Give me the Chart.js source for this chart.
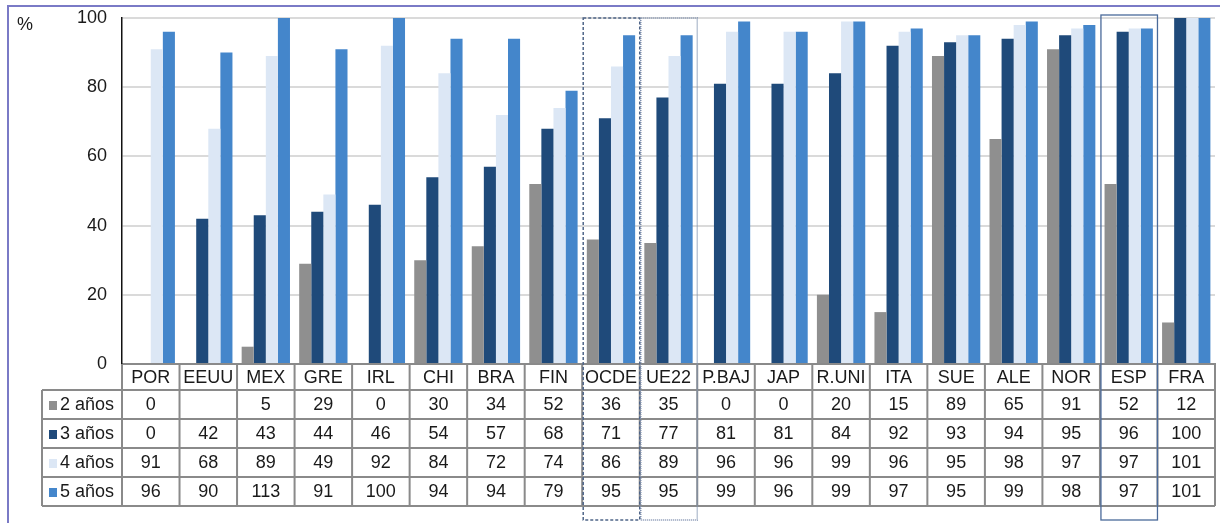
<!DOCTYPE html>
<html lang="es">
<head>
<meta charset="utf-8">
<title>Tasas de escolarización por edad</title>
<script src="https://cdn.jsdelivr.net/npm/chart.js@4/dist/chart.umd.min.js"></script>
<style>
  html, body { margin: 0; padding: 0; background: #ffffff; }
  #wrap { position: relative; width: 1220px; height: 523px; }
  canvas { display: block; }
</style>
</head>
<body>
<div id="wrap"><canvas id="chart" width="1220" height="523"></canvas></div>
<script>
// Countries / aggregates, in the order shown
const categories = ['POR','EEUU','MEX','GRE','IRL','CHI','BRA','FIN','OCDE','UE22','P.BAJ','JAP','R.UNI','ITA','SUE','ALE','NOR','ESP','FRA'];

// Enrolment rate (%) by age
const age2 = [0, null, 5, 29, 0, 30, 34, 52, 36, 35, 0, 0, 20, 15, 89, 65, 91, 52, 12];
const age3 = [0, 42, 43, 44, 46, 54, 57, 68, 71, 77, 81, 81, 84, 92, 93, 94, 95, 96, 100];
const age4 = [91, 68, 89, 49, 92, 84, 72, 74, 86, 89, 96, 96, 99, 96, 95, 98, 97, 97, 101];
const age5 = [96, 90, 113, 91, 100, 94, 94, 79, 95, 95, 99, 96, 99, 97, 95, 99, 98, 97, 101];

const seriesNames = ['2 años', '3 años', '4 años', '5 años'];
const seriesColors = ['#8f8f8f', '#1f4a7a', '#dce7f5', '#4486cb'];
const yTicks = [0, 20, 40, 60, 80, 100];

const FONT = '"Liberation Sans", Arial, sans-serif';
const TEXT = '#1a1a1a';
const TABLE_LINE = '#8a8a8a';

// Row bottoms of the data table below the plot (header row + 4 series rows)
const tableRowEdges = [390, 419, 448, 477, 506];
const tableLeft = 42;

const seriesData = [age2, age3, age4, age5];

// Frame around the whole figure
const framePlugin = {
  id: 'frame',
  beforeDraw(chart) {
    const ctx = chart.ctx;
    ctx.save();
    ctx.strokeStyle = '#7a7ac6';
    ctx.lineWidth = 2;
    ctx.beginPath();
    ctx.moveTo(8, 523);
    ctx.lineTo(8, 6);
    ctx.lineTo(1220, 6);
    ctx.stroke();
    ctx.fillStyle = TEXT;
    ctx.font = '18px ' + FONT;
    ctx.textAlign = 'left';
    ctx.textBaseline = 'middle';
    ctx.fillText('%', 17, 25);
    ctx.restore();
  }
};

// Data table under the plot, aligned with the category scale
const tablePlugin = {
  id: 'dataTable',
  afterDraw(chart) {
    const ctx = chart.ctx;
    const xs = chart.scales.x;
    const area = chart.chartArea;
    const n = categories.length;
    const colW = (area.right - area.left) / n;
    const top = area.bottom;
    const right = area.right;
    ctx.save();
    ctx.strokeStyle = TABLE_LINE;
    ctx.lineWidth = 2;

    // horizontal rules
    ctx.beginPath();
    tableRowEdges.forEach(y => {
      ctx.moveTo(tableLeft, y);
      ctx.lineTo(right, y);
    });
    ctx.stroke();

    // vertical rules
    ctx.beginPath();
    ctx.moveTo(tableLeft, tableRowEdges[0]);
    ctx.lineTo(tableLeft, tableRowEdges[tableRowEdges.length - 1]);
    for (let i = 0; i <= n; i++) {
      const x = xs.getPixelForValue(i) - colW / 2;
      ctx.moveTo(x, top);
      ctx.lineTo(x, tableRowEdges[tableRowEdges.length - 1]);
    }
    ctx.stroke();

    // row labels with colour keys, and the values
    ctx.font = '18px ' + FONT;
    ctx.textBaseline = 'middle';
    for (let r = 0; r < seriesData.length; r++) {
      const y0 = tableRowEdges[r];
      const y1 = tableRowEdges[r + 1];
      const cy = (y0 + y1) / 2 + 1;
      ctx.fillStyle = seriesColors[r];
      ctx.fillRect(49, cy - 4.5, 8, 9);
      ctx.fillStyle = TEXT;
      ctx.textAlign = 'left';
      ctx.fillText(seriesNames[r], 60, cy);
      ctx.textAlign = 'center';
      seriesData[r].forEach((v, i) => {
        if (v === null) return;
        ctx.fillText(String(v), xs.getPixelForValue(i), cy);
      });
    }
    ctx.restore();
  }
};

// Outlines around the OECD / EU22 averages and Spain
const highlightPlugin = {
  id: 'highlights',
  afterDraw(chart) {
    const ctx = chart.ctx;
    const xs = chart.scales.x;
    const area = chart.chartArea;
    const colW = (area.right - area.left) / categories.length;
    const boxes = [
      { cat: 'OCDE', color: '#4f6588', dash: [3, 2], width: 1.5, top: area.top },
      { cat: 'UE22', color: '#7d8fae', dash: [1, 1], width: 1.5, top: area.top },
      { cat: 'ESP', color: '#4a6a9a', dash: [], width: 1.3, top: area.top - 3 }
    ];
    ctx.save();
    boxes.forEach(b => {
      const c = xs.getPixelForValue(categories.indexOf(b.cat));
      ctx.strokeStyle = b.color;
      ctx.lineWidth = b.width;
      ctx.setLineDash(b.dash);
      ctx.strokeRect(c - colW / 2 + 1, b.top, colW - 1, 520 - b.top);
    });
    ctx.restore();
  }
};

new Chart(document.getElementById('chart'), {
  type: 'bar',
  data: {
    labels: categories,
    datasets: seriesNames.map((name, i) => ({
      label: name,
      data: seriesData[i],
      backgroundColor: seriesColors[i],
      borderWidth: 0,
      categoryPercentage: 0.84,
      barPercentage: 1.0
    }))
  },
  options: {
    responsive: false,
    animation: false,
    layout: { padding: { top: 18, right: 5, left: 0, bottom: 0 } },
    plugins: {
      legend: { display: false },
      tooltip: { enabled: false }
    },
    scales: {
      x: {
        grid: { display: false, drawTicks: false },
        border: { display: true, color: TABLE_LINE, width: 2 },
        ticks: {
          color: TEXT,
          font: { family: FONT, size: 18 },
          padding: 3,
          maxRotation: 0,
          autoSkip: false
        },
        afterFit(axis) {
          axis.height = 159;
          axis.paddingLeft = 0;
          axis.paddingRight = 0;
        }
      },
      y: {
        min: 0,
        max: 100,
        afterBuildTicks(axis) { axis.ticks = yTicks.map(v => ({ value: v })); },
        grid: { color: '#dadada', lineWidth: 2, drawTicks: false },
        border: { display: true, color: '#111111', width: 1.5 },
        ticks: {
          color: TEXT,
          font: { family: FONT, size: 18 },
          padding: 15
        },
        afterFit(axis) {
          axis.width = 122;
          axis.paddingTop = 0;
          axis.paddingBottom = 0;
        }
      }
    }
  },
  plugins: [framePlugin, tablePlugin, highlightPlugin]
});
</script>
</body>
</html>
